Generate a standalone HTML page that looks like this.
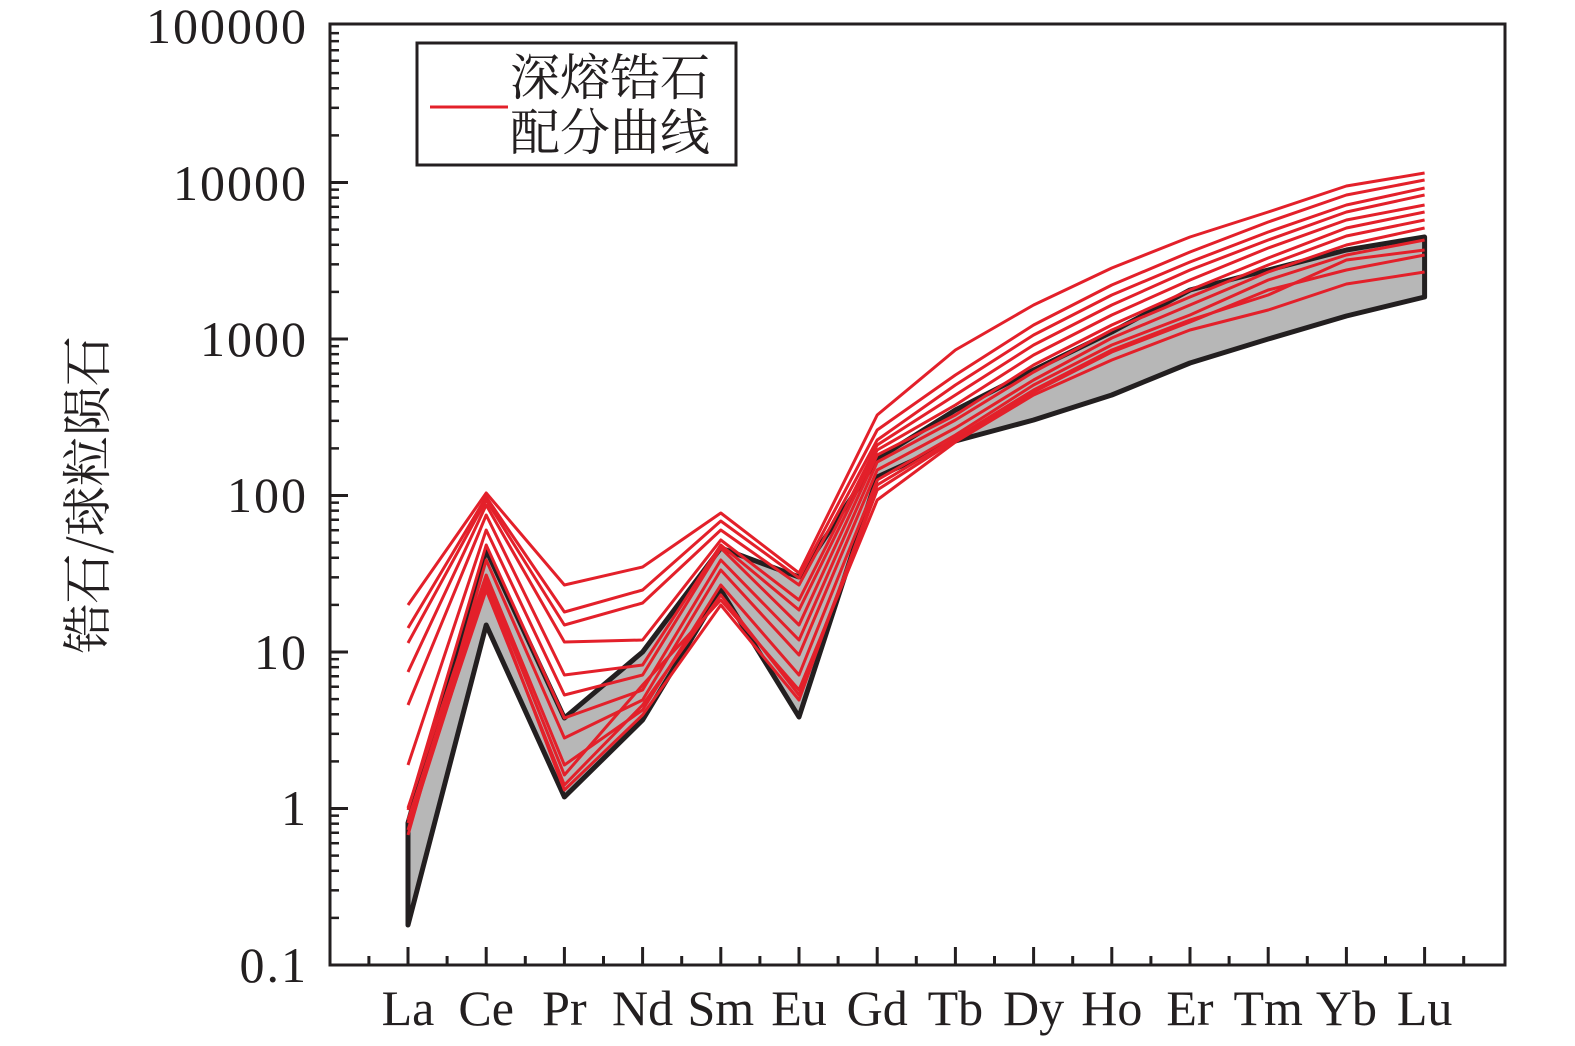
<!DOCTYPE html>
<html><head><meta charset="utf-8"><style>body{margin:0;background:#fff}svg{display:block}</style></head><body>
<svg id="s" width="1575" height="1046" xmlns="http://www.w3.org/2000/svg" font-family="Liberation Serif, Noto Serif CJK SC, serif">
<rect width="1575" height="1046" fill="#fff"/>
<g id="g"></g>
<rect x="330" y="24" width="1175" height="941" fill="none" stroke="#231f20" stroke-width="3"/>
<g font-size="50" text-anchor="end" fill="#231f20" letter-spacing="2">
<text x="308" y="43">100000</text><text x="308" y="200">10000</text><text x="308" y="356">1000</text>
<text x="308" y="512">100</text><text x="308" y="669">10</text><text x="308" y="825">1</text><text x="308" y="982">0.1</text>
</g>
<g font-size="50" text-anchor="middle" fill="#231f20" id="xl"></g>
<text transform="translate(105,495) rotate(-90)" font-size="50" text-anchor="middle" fill="#231f20" font-family="Noto Serif CJK SC, serif">锆石/球粒陨石</text>
<rect x="417" y="43" width="319" height="122" fill="#fff" stroke="#231f20" stroke-width="3"/>
<line x1="430" y1="107" x2="508" y2="107" stroke="#e3202a" stroke-width="3"/>
<g font-size="50" fill="#231f20" font-family="Noto Serif CJK SC, serif"><text x="510" y="95">深熔锆石</text><text x="510" y="150">配分曲线</text></g>
</svg>
<script>
var X=[],ns="http://www.w3.org/2000/svg";for(var i=0;i<14;i++)X.push(408+i*78.2);
var g=document.getElementById('g');
function el(t,a){var e=document.createElementNS(ns,t);for(var k in a)e.setAttribute(k,a[k]);return e;}
var up=[823,550,718,652,548,577,459,410,370,332,290,270,250,237];
var lo=[925,625,797,720,590,717,477,441,420,395,363,339,316,297];
var pts=X.map((x,i)=>x+','+up[i]).concat(X.slice().reverse().map((x,j)=>x+','+lo[13-j]));
g.appendChild(el('polygon',{points:pts.join(' '),fill:'#b7b7b7',stroke:'#231f20','stroke-width':5,'stroke-linejoin':'round'}));
var R=[[605,493,585,567,513,573,415,350,305,268,237,212,186,173],
[628,497,612,590,521,578,430,375,325,285,252,222,195,180],
[643,500,625,603,530,585,440,385,335,295,262,232,205,188],
[672,505,642,640,540,600,445,395,345,305,270,240,212,195],
[705,515,675,665,545,610,450,405,355,315,280,248,220,205],
[765,530,695,675,548,625,455,415,365,325,290,258,228,212],
[810,545,718,690,560,640,462,420,372,330,297,265,236,220],
[835,560,738,700,570,655,470,428,380,338,305,272,245,228],
[808,575,765,710,585,675,480,435,385,345,315,280,255,240],
[823,590,785,705,595,695,490,440,392,352,322,290,270,255],
[820,580,775,685,600,690,500,442,395,360,330,310,284,272],
[830,585,790,715,605,700,485,438,390,350,320,295,260,250]];
R.forEach(r=>g.appendChild(el('polyline',{points:X.map((x,i)=>x+','+r[i]).join(' '),fill:'none',stroke:'#e3202a','stroke-width':3,'stroke-linejoin':'round'})));
for(var d=0;d<6;d++){var y0=965-d*156.5;
 g.appendChild(el('line',{x1:330,y1:y0,x2:348,y2:y0,stroke:'#231f20','stroke-width':3}));
 for(var m=2;m<10;m++){var y=y0-156.5*Math.log10(m);if(y<24)break;g.appendChild(el('line',{x1:330,y1:y,x2:339,y2:y,stroke:'#231f20','stroke-width':2.5}));}}
for(var i=0;i<14;i++){g.appendChild(el('line',{x1:X[i],y1:965,x2:X[i],y2:947,stroke:'#231f20','stroke-width':3}));
 g.appendChild(el('line',{x1:X[i]-39.1,y1:965,x2:X[i]-39.1,y2:956,stroke:'#231f20','stroke-width':3}));}
g.appendChild(el('line',{x1:X[13]+39.1,y1:965,x2:X[13]+39.1,y2:956,stroke:'#231f20','stroke-width':3}));
var L=['La','Ce','Pr','Nd','Sm','Eu','Gd','Tb','Dy','Ho','Er','Tm','Yb','Lu'],xl=document.getElementById('xl');
L.forEach((t,i)=>{var e=el('text',{x:X[i],y:1025});e.textContent=t;xl.appendChild(e);});
</script>
</body></html>
